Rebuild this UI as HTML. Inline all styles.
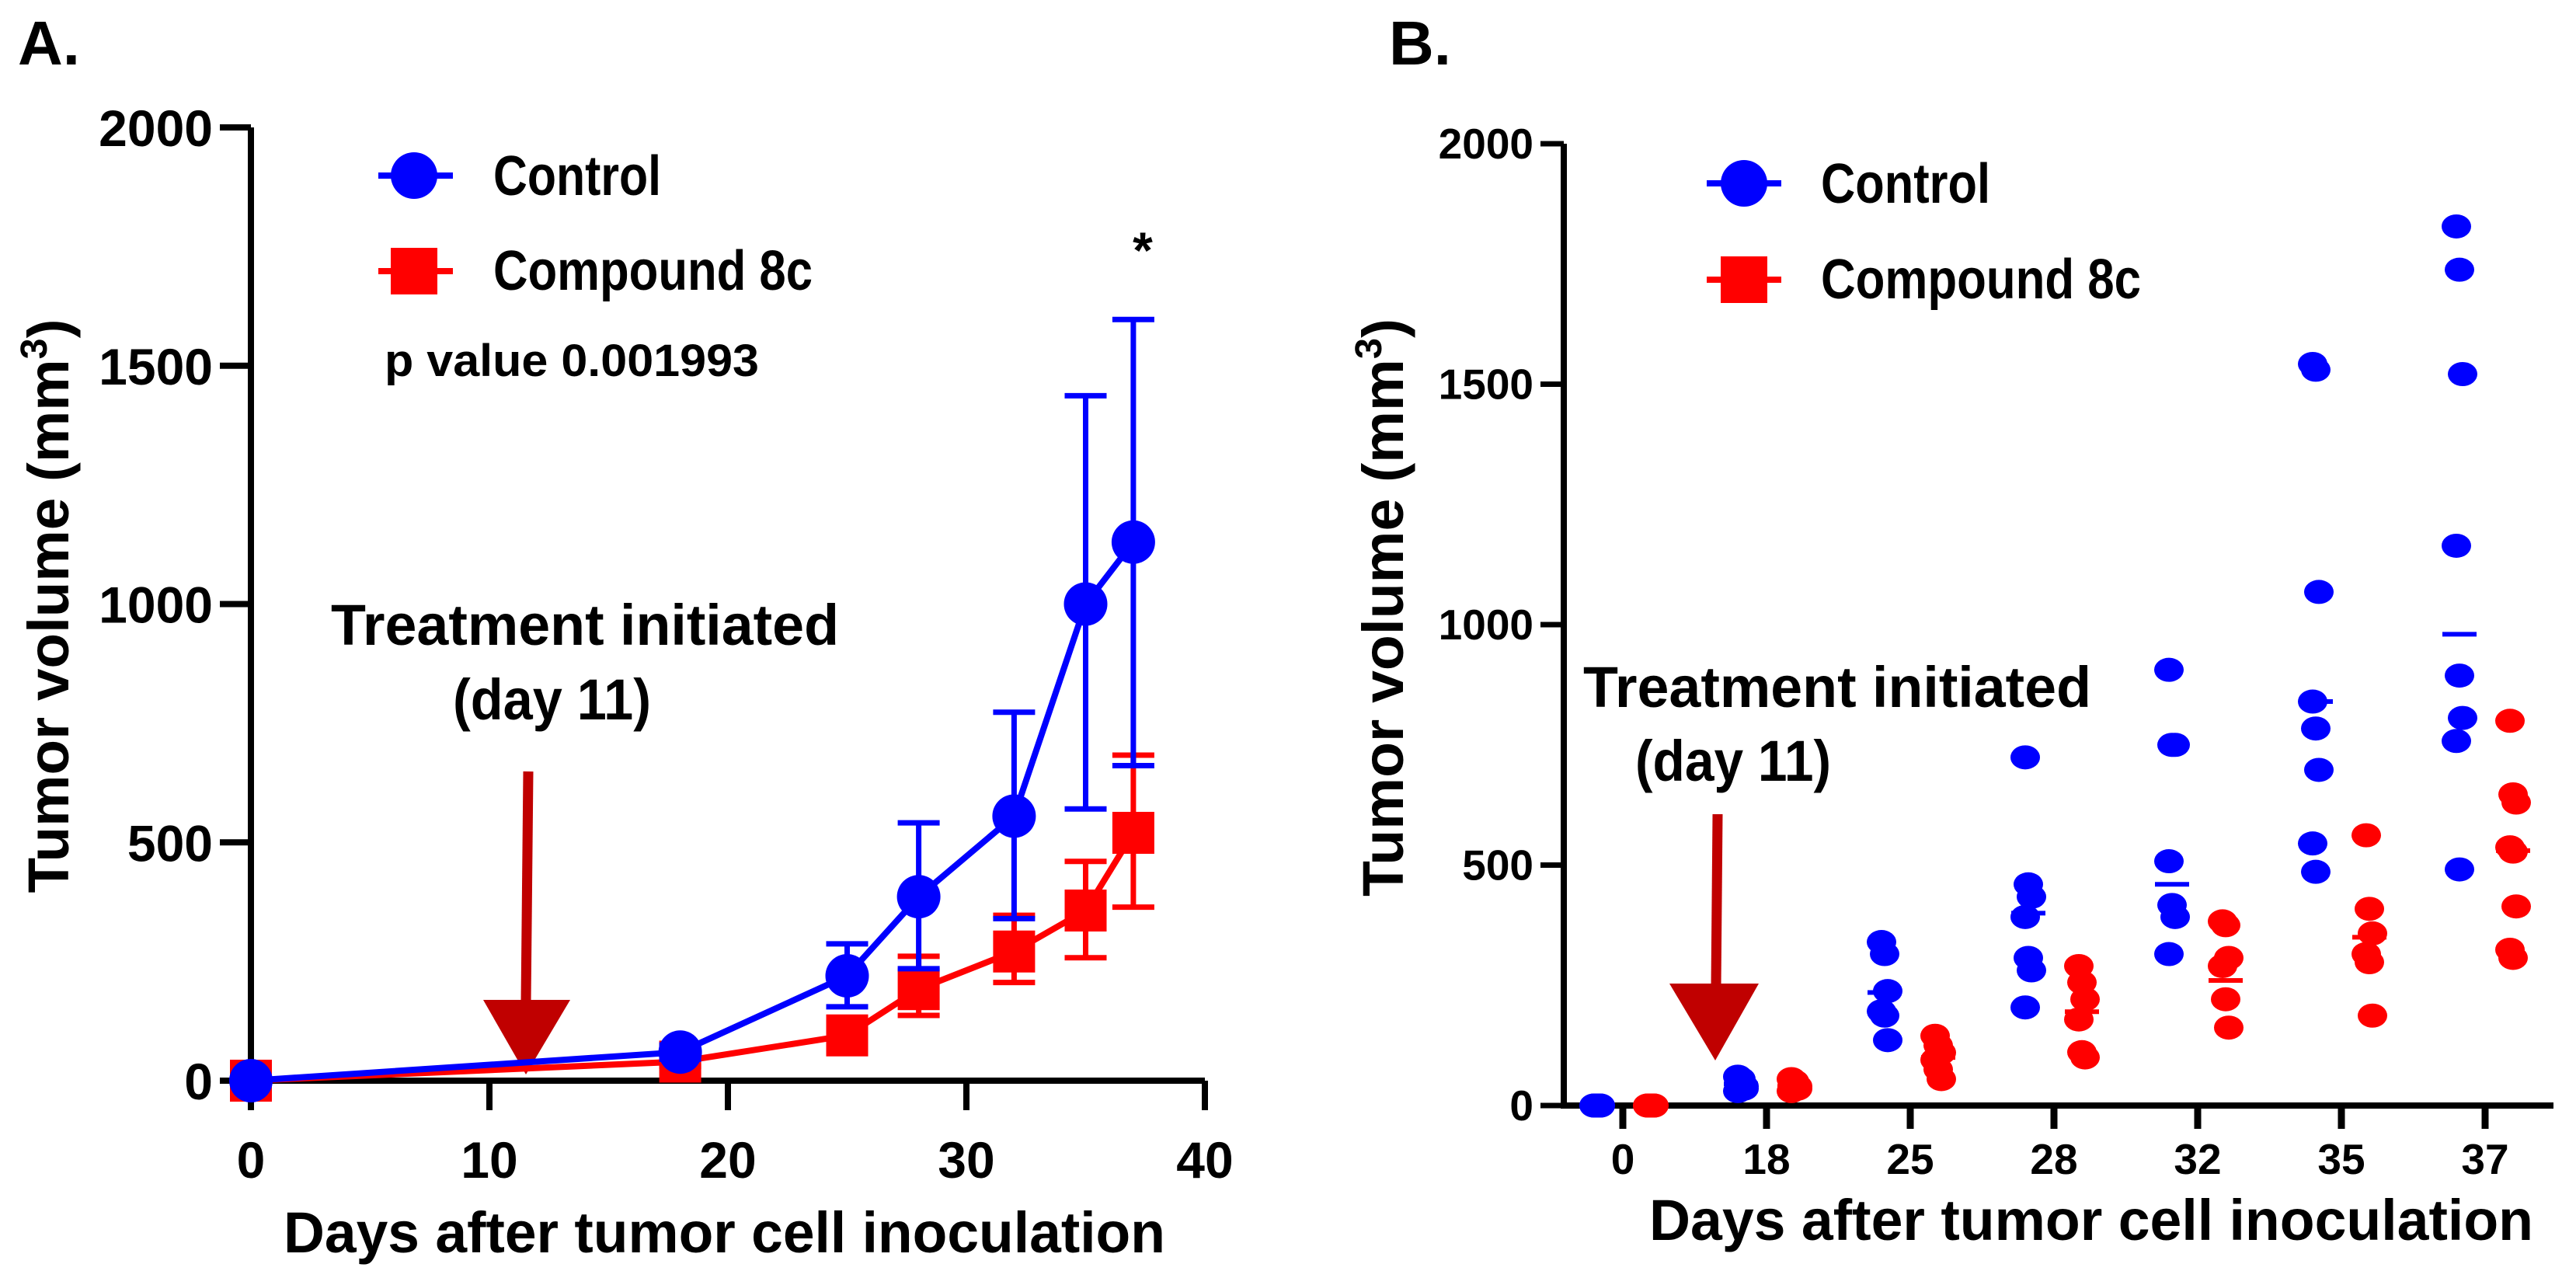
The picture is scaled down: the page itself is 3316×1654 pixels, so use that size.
<!DOCTYPE html>
<html><head><meta charset="utf-8"><style>
html,body{margin:0;padding:0;background:#fff;}
svg{display:block;font-family:"Liberation Sans",Arial,sans-serif;font-weight:bold;}
</style></head><body>
<svg id="fig" width="3316" height="1654" viewBox="0 0 3316 1654" xmlns="http://www.w3.org/2000/svg">
<g id="pa"></g>
<g id="pb"></g>
</svg>
<script>
// Panel A data
const daysA = [0, 18, 25, 28, 32, 35, 37];
const ctrlMean = [0, 60, 220, 386, 555, 1000, 1130];
const ctrlUp = [0, 75, 287, 541, 773, 1437, 1597];
const ctrlLo = [0, 45, 155, 235, 340, 570, 661];
const cmpMean = [0, 40, 95, 192, 271, 357, 520];
const cmpUp = [0, 50, 100, 261, 347, 460, 683];
const cmpLo = [0, 30, 90, 137, 206, 258, 364];
const xTicksA = [0, 10, 20, 30, 40];
const yTicksA = [0, 500, 1000, 1500, 2000];
// Panel B data
const catsB = ["0", "18", "25", "28", "32", "35", "37"];
const ctrlPts = [
  [0,0,0,0,0,0],
  [60,50,40,30,55,35],
  [340,315,238,196,187,136],
  [724,460,434,392,307,281,204],
  [906,750,750,508,417,392,315],
  [1542,1530,1068,840,784,698,545,486],
  [1828,1738,1521,1164,894,806,758,491]
];
const cmpPts = [
  [0,0,0,0,0,0],
  [55,45,40,30,50,35],
  [145,125,110,95,75,55],
  [290,256,221,179,111,100],
  [383,375,307,290,221,162],
  [562,409,358,315,298,187],
  [800,647,630,537,528,414,324,307]
];
const ctrlMeanB = [0,45,235,400,460,840,980];
const cmpMeanB = [0,40,100,195,260,350,530];
const yTicksB = [0, 500, 1000, 1500, 2000];

const NS = "http://www.w3.org/2000/svg";
function mk(parent, tag, attrs, text) {
  const e = document.createElementNS(NS, tag);
  for (const k in attrs) e.setAttribute(k, attrs[k]);
  if (text !== undefined) e.textContent = text;
  parent.appendChild(e);
  return e;
}

// ---------- Panel A ----------
const pa = document.getElementById('pa');
const ax = d => 323 + d * 30.7;
const ay = v => 1391 - v * 0.6135;

let t = mk(pa, 'text', {x: 23, y: 83, 'font-size': 80}, 'A.');



// axes
let a = mk(pa, 'path', {d: `M${ax(0)} ${ay(2000)} V${ay(0)} H${ax(40)}`, stroke: '#000', 'stroke-width': 8, fill: 'none'});


yTicksA.forEach(v => {
  const l = mk(pa, 'line', {x1: 283, x2: ax(0), y1: ay(v), y2: ay(v), stroke: '#000', 'stroke-width': 8});
  
  
  const tx = mk(pa, 'text', {x: 274, y: ay(v) + 24, 'font-size': 66, 'text-anchor': 'end'}, String(v));
  
  
});
xTicksA.forEach(v => {
  const l = mk(pa, 'line', {x1: ax(v), x2: ax(v), y1: ay(0), y2: ay(0) + 38, stroke: '#000', 'stroke-width': 8});
  
  
  const tx = mk(pa, 'text', {x: ax(v), y: 1516, 'font-size': 66, 'text-anchor': 'middle'}, String(v));
  
  
});
t = mk(pa, 'text', {x: 365, y: 1612, 'font-size': 74, textLength: 1135, lengthAdjust: 'spacingAndGlyphs'}, 'Days after tumor cell inoculation');


t = mk(pa, 'text', {x: 0, y: 0, 'font-size': 74, 'text-anchor': 'middle', transform: 'translate(88,780) rotate(-90)', textLength: 739, lengthAdjust: 'spacingAndGlyphs'});
t.appendChild(document.createTextNode('Tumor volume (mm'));
const sup = mk(t, 'tspan', {'font-size': 48, dy: -28}, '3');
mk(t, 'tspan', {dy: 28}, ')');



// arrow A
let g = mk(pa, 'g', {});


mk(g, 'line', {x1: 680, y1: 993, x2: 677, y2: 1290, stroke: '#c00000', 'stroke-width': 13});
mk(g, 'polygon', {points: '622,1287 734,1287 677,1383', fill: '#c00000'});
t = mk(pa, 'text', {x: 426, y: 830, 'font-size': 74, textLength: 654, lengthAdjust: 'spacingAndGlyphs'}, 'Treatment initiated');


t = mk(pa, 'text', {x: 583, y: 926, 'font-size': 74, textLength: 255, lengthAdjust: 'spacingAndGlyphs'}, '(day 11)');



// error bars
function errBars(parent, up, lo, color, name) {
  daysA.forEach((d, i) => {
    if (up[i] - lo[i] < 20) return;
    const x = ax(d);
    const e = mk(parent, 'path', {d: `M${x} ${ay(up[i])} V${ay(lo[i])} M${x-27} ${ay(up[i])} H${x+27} M${x-27} ${ay(lo[i])} H${x+27}`, stroke: color, 'stroke-width': 7, fill: 'none'});
    
    
  });
}
errBars(pa, cmpUp, cmpLo, '#ff0000', 'error-bar-compound');
const cl = mk(pa, 'polyline', {points: daysA.map((d, i) => `${ax(d)},${ay(cmpMean[i])}`).join(' '), stroke: '#ff0000', 'stroke-width': 8, fill: 'none'});


daysA.forEach((d, i) => {
  const r = mk(pa, 'rect', {x: ax(d) - 27, y: ay(cmpMean[i]) - 27, width: 54, height: 54, fill: '#ff0000'});
  
  
});
errBars(pa, ctrlUp, ctrlLo, '#0000ff', 'error-bar-control');
const bl = mk(pa, 'polyline', {points: daysA.map((d, i) => `${ax(d)},${ay(ctrlMean[i])}`).join(' '), stroke: '#0000ff', 'stroke-width': 8, fill: 'none'});


daysA.forEach((d, i) => {
  const c = mk(pa, 'circle', {cx: ax(d), cy: ay(ctrlMean[i]), r: 28, fill: '#0000ff'});
  
  
});
t = mk(pa, 'text', {x: 1471, y: 345, 'font-size': 66, 'text-anchor': 'middle'}, '*');



// legend A
g = mk(pa, 'g', {});


mk(g, 'line', {x1: 487, x2: 583, y1: 226, y2: 226, stroke: '#0000ff', 'stroke-width': 8});
mk(g, 'circle', {cx: 533, cy: 226, r: 30, fill: '#0000ff'});
mk(g, 'text', {x: 635, y: 251, 'font-size': 72, textLength: 216, lengthAdjust: 'spacingAndGlyphs'}, 'Control');
g = mk(pa, 'g', {});


mk(g, 'line', {x1: 487, x2: 583, y1: 349, y2: 349, stroke: '#ff0000', 'stroke-width': 8});
mk(g, 'rect', {x: 503, y: 319, width: 60, height: 60, fill: '#ff0000'});
mk(g, 'text', {x: 635, y: 373, 'font-size': 72, textLength: 411, lengthAdjust: 'spacingAndGlyphs'}, 'Compound 8c');
t = mk(pa, 'text', {x: 495, y: 484, 'font-size': 58, textLength: 482, lengthAdjust: 'spacingAndGlyphs'}, 'p value 0.001993');



// ---------- Panel B ----------
const pb = document.getElementById('pb');
const bx = i => 2089 + i * 185;
const by = v => 1423 - v * 0.619;
t = mk(pb, 'text', {x: 1788, y: 83, 'font-size': 80}, 'B.');


a = mk(pb, 'path', {d: `M2013 ${by(2000)} V${by(0)} H3287`, stroke: '#000', 'stroke-width': 8, fill: 'none'});


yTicksB.forEach(v => {
  const l = mk(pb, 'line', {x1: 1983, x2: 2013, y1: by(v), y2: by(v), stroke: '#000', 'stroke-width': 7});
  
  
  const tx = mk(pb, 'text', {x: 1974, y: by(v) + 19, 'font-size': 55, 'text-anchor': 'end'}, String(v));
  
  
});
catsB.forEach((c, i) => {
  const l = mk(pb, 'line', {x1: bx(i), x2: bx(i), y1: by(0), y2: by(0) + 30, stroke: '#000', 'stroke-width': 9});
  
  
  const tx = mk(pb, 'text', {x: bx(i), y: 1511, 'font-size': 55, 'text-anchor': 'middle'}, c);
  
  
});
t = mk(pb, 'text', {x: 2123, y: 1596, 'font-size': 74, textLength: 1138, lengthAdjust: 'spacingAndGlyphs'}, 'Days after tumor cell inoculation');


t = mk(pb, 'text', {x: 0, y: 0, 'font-size': 74, 'text-anchor': 'middle', transform: 'translate(1806,782) rotate(-90)', textLength: 744, lengthAdjust: 'spacingAndGlyphs'});
t.appendChild(document.createTextNode('Tumor volume (mm'));
mk(t, 'tspan', {'font-size': 48, dy: -28}, '3');
mk(t, 'tspan', {dy: 28}, ')');



g = mk(pb, 'g', {});


mk(g, 'line', {x1: 2211, y1: 1048, x2: 2209, y2: 1270, stroke: '#c00000', 'stroke-width': 13});
mk(g, 'polygon', {points: '2149,1266 2264,1266 2208,1365', fill: '#c00000'});
t = mk(pb, 'text', {x: 2038, y: 910, 'font-size': 74, textLength: 654, lengthAdjust: 'spacingAndGlyphs'}, 'Treatment initiated');


t = mk(pb, 'text', {x: 2105, y: 1005, 'font-size': 74, textLength: 252, lengthAdjust: 'spacingAndGlyphs'}, '(day 11)');



function dots(pts, means, off, color, name, mname) {
  pts.forEach((arr, i) => {
    arr.forEach((v, j) => {
      const jit = ((j % 3) - 1) * 4;
      const e = mk(pb, 'ellipse', {cx: bx(i) + off + jit, cy: by(v), rx: 19, ry: 15.5, fill: color});
      
      
    });
    const m = mk(pb, 'line', {x1: bx(i) + off - 22, x2: bx(i) + off + 22, y1: by(means[i]), y2: by(means[i]), stroke: color, 'stroke-width': 6});
    
    
  });
}
dots(ctrlPts, ctrlMeanB, -33, '#0000ff', 'control-dot', 'control-mean-line');
dots(cmpPts, cmpMeanB, 36, '#ff0000', 'compound-dot', 'compound-mean-line');

g = mk(pb, 'g', {});


mk(g, 'line', {x1: 2197, x2: 2293, y1: 236, y2: 236, stroke: '#0000ff', 'stroke-width': 8});
mk(g, 'circle', {cx: 2245, cy: 236, r: 30, fill: '#0000ff'});
mk(g, 'text', {x: 2344, y: 261, 'font-size': 72, textLength: 218, lengthAdjust: 'spacingAndGlyphs'}, 'Control');
g = mk(pb, 'g', {});


mk(g, 'line', {x1: 2197, x2: 2293, y1: 360, y2: 360, stroke: '#ff0000', 'stroke-width': 8});
mk(g, 'rect', {x: 2215, y: 330, width: 60, height: 60, fill: '#ff0000'});
mk(g, 'text', {x: 2344, y: 384, 'font-size': 72, textLength: 412, lengthAdjust: 'spacingAndGlyphs'}, 'Compound 8c');
</script>
</body></html>
